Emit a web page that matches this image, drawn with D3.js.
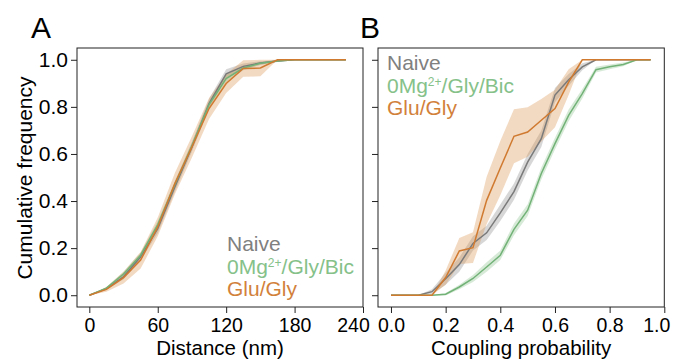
<!DOCTYPE html>
<html><head><meta charset="utf-8">
<script src="https://cdn.jsdelivr.net/npm/d3@7"></script>
<style>body{margin:0;background:#fff}svg{display:block}text{font-family:"Liberation Sans",Arial,sans-serif}</style>
</head><body>
<svg id="c" width="678" height="359"></svg>
<script>
// Panel A: distance (nm)
const distA = [0,15,30,45,60,75,90,105,120,135,150,165,180,195,210,225];
const naiveA = [0,0.028,0.078,0.163,0.283,0.46,0.63,0.814,0.94,0.972,0.986,0.995,1,1,1,1];
const naiveASem = [0,0.005,0.01,0.015,0.02,0.02,0.02,0.02,0.02,0.012,0.008,0.004,0,0,0,0];
const greenA = [0,0.03,0.09,0.17,0.30,0.47,0.635,0.81,0.92,0.965,0.985,0.995,1,1,1,1];
const greenASem = [0,0.005,0.01,0.012,0.015,0.015,0.015,0.015,0.015,0.01,0.006,0.003,0,0,0,0];
const orangeA = [0,0.025,0.075,0.149,0.29,0.474,0.63,0.793,0.899,0.963,0.965,1,1,1,1,1];
const orangeASem = [0,0.01,0.025,0.035,0.04,0.045,0.045,0.045,0.04,0.035,0.035,0,0,0,0,0];
// Panel B: coupling probability
const probB = [0,0.05,0.1,0.15,0.2,0.25,0.3,0.35,0.4,0.45,0.5,0.55,0.6,0.65,0.7,0.75,0.8,0.85,0.9,0.95];
const naiveB = [0,0,0,0.015,0.07,0.13,0.22,0.265,0.35,0.44,0.565,0.665,0.85,0.915,0.97,1,1,1,1,1];
const naiveBSem = [0,0,0,0.01,0.025,0.03,0.03,0.03,0.035,0.035,0.035,0.035,0.03,0.025,0.015,0,0,0,0,0];
const greenB = [0,0,0,0,0.004,0.035,0.071,0.12,0.17,0.28,0.361,0.517,0.644,0.764,0.856,0.958,0.97,0.98,1,1];
const greenBSem = [0,0,0,0,0.005,0.01,0.015,0.02,0.02,0.025,0.025,0.025,0.025,0.025,0.02,0.012,0.01,0.008,0,0];
const orangeB = [0,0,0,0,0.075,0.188,0.202,0.403,0.54,0.675,0.693,0.743,0.793,0.905,1,1,1,1,1,1];
const orangeBSem = [0,0,0,0,0.03,0.055,0.065,0.1,0.115,0.115,0.105,0.09,0.08,0.055,0,0,0,0,0,0];

const xTicksA = [0,60,120,180,240];
const xTicksB = [0,0.2,0.4,0.6,0.8,1.0];
const yTicks = [0,0.2,0.4,0.6,0.8,1.0];
const legendNames = ["Naive","0Mg","Glu/Gly"];
const colors = {naive:"#808080", green:"#85c189", orange:"#d2813b"};

const svg = d3.select("#c");
const yScale = d3.scaleLinear().domain([-0.05,1.05]).range([307,48]);

function panel(xDomain, xRange, xTicks, xFmt, lastShift, series, label, xlabel, showYLabels, legendPos, letterX){
  const x = d3.scaleLinear().domain(xDomain).range(xRange);
  const g = svg.append("g");
  series.forEach(s=>{
    const pts = s.xs.map((xv,i)=>({x:xv,y:s.ys[i],e:s.se[i]}));
    g.append("path").datum(pts)
      .attr("d", d3.area().x(d=>x(d.x)).y0(d=>yScale(d.y-d.e)).y1(d=>yScale(Math.min(1,d.y+d.e))))
      .attr("fill", s.color).attr("fill-opacity",0.35).attr("stroke","none");
  });
  series.forEach(s=>{
    const pts = s.xs.map((xv,i)=>({x:xv,y:s.ys[i]}));
    g.append("path").datum(pts)
      .attr("d", d3.line().x(d=>x(d.x)).y(d=>yScale(d.y)))
      .attr("fill","none").attr("stroke", s.line).attr("stroke-width",1.5);
  });
  g.append("rect").attr("x",xRange[0]).attr("y",48).attr("width",xRange[1]-xRange[0]).attr("height",259)
    .attr("fill","none").attr("stroke","#222").attr("stroke-width",1);
  const xa = g.append("g").attr("transform","translate(0,307)")
    .call(d3.axisBottom(x).tickValues(xTicks).tickFormat(xFmt).tickSize(6).tickPadding(5));
  xa.select(".domain").remove();
  xa.selectAll("text").attr("font-size",19.5).attr("fill","#000")
    .attr("dx",(d,i)=> i===xTicks.length-1 ? lastShift : 0);
  xa.selectAll("line").attr("stroke","#222");
  const ya = g.append("g").attr("transform",`translate(${xRange[0]},0)`)
    .call(d3.axisLeft(yScale).tickValues(yTicks).tickFormat(showYLabels? d3.format(".1f") : "").tickSize(6).tickPadding(3));
  ya.select(".domain").remove();
  ya.selectAll("text").attr("font-size",21).attr("fill","#000");
  ya.selectAll("line").attr("stroke","#222");
  g.append("text").attr("x",(xRange[0]+xRange[1])/2).attr("y",355).attr("text-anchor","middle")
    .attr("font-size",20.5).text(xlabel);
  g.append("text").attr("x",letterX).attr("y",38).attr("font-size",30).text(label);
  const [lx, ly] = legendPos;
  g.append("text").attr("x",lx).attr("y",ly).attr("font-size",21).attr("fill",colors.naive).text(legendNames[0]);
  const t2 = g.append("text").attr("x",lx).attr("y",ly+22.5).attr("font-size",21).attr("fill",colors.green);
  t2.append("tspan").text(legendNames[1]);
  t2.append("tspan").attr("font-size",12).attr("dy",-6.5).text("2+");
  t2.append("tspan").attr("dy",6.5).text("/Gly/Bic");
  g.append("text").attr("x",lx).attr("y",ly+45).attr("font-size",21).attr("fill",colors.orange).text(legendNames[2]);
}

panel([-10.8,240],[77,363],xTicksA,d3.format("d"),-10,[
  {xs:distA,ys:naiveA,se:naiveASem,color:"#8c8c8c",line:"#7a7a7a"},
  {xs:distA,ys:greenA,se:greenASem,color:"#8cc490",line:"#72b277"},
  {xs:distA,ys:orangeA,se:orangeASem,color:"#d9914f",line:"#d07a30"}
],"A","Distance (nm)",true,[227,251],31);

panel([-0.0475,1.0],[378,664.3],xTicksB,d3.format(".1f"),-8,[
  {xs:probB,ys:naiveB,se:naiveBSem,color:"#8c8c8c",line:"#7a7a7a"},
  {xs:probB,ys:greenB,se:greenBSem,color:"#8cc490",line:"#72b277"},
  {xs:probB,ys:orangeB,se:orangeBSem,color:"#d9914f",line:"#d07a30"}
],"B","Coupling probability",false,[387,70],360);

svg.append("text").attr("transform","translate(32,178) rotate(-90)").attr("text-anchor","middle")
  .attr("font-size",21).text("Cumulative frequency");
</script>
</body></html>
